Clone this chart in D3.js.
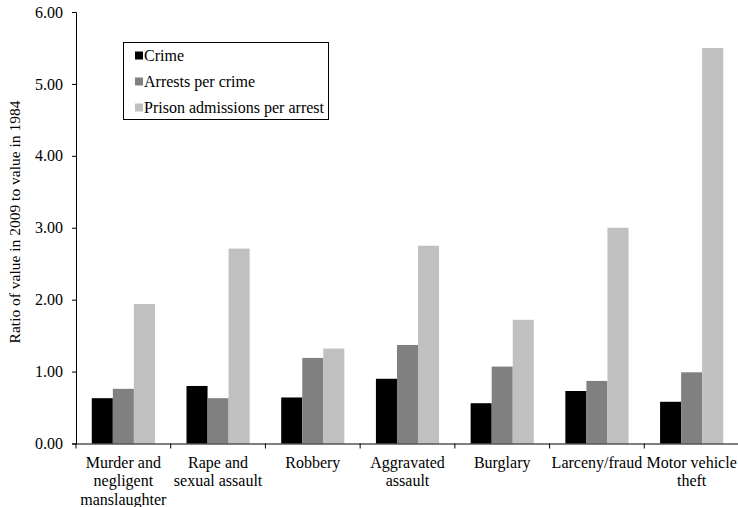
<!DOCTYPE html>
<html>
<head>
<meta charset="utf-8">
<script src="https://cdn.jsdelivr.net/npm/d3@7"></script>
<style>
  html, body { margin: 0; padding: 0; background: #fff; }
  svg text { font-family: "Liberation Serif", "Times New Roman", serif; fill: #000; }
</style>
</head>
<body>
<svg id="chart" width="738" height="507"></svg>
<script>
const categories = [
  ["Murder and", "negligent", "manslaughter"],
  ["Rape and", "sexual assault"],
  ["Robbery"],
  ["Aggravated", "assault"],
  ["Burglary"],
  ["Larceny/fraud"],
  ["Motor vehicle", "theft"]
];
const seriesNames = ["Crime", "Arrests per crime", "Prison admissions per arrest"];
const crime = [0.63, 0.80, 0.64, 0.90, 0.56, 0.73, 0.58];
const arrestsPerCrime = [0.76, 0.63, 1.19, 1.37, 1.07, 0.87, 0.99];
const prisonPerArrest = [1.94, 2.71, 1.32, 2.75, 1.72, 3.00, 5.50];
const yTicks = [0, 1, 2, 3, 4, 5, 6];
const colors = ["#000000", "#808080", "#c0c0c0"];

const series = [crime, arrestsPerCrime, prisonPerArrest];
const svg = d3.select("#chart");
const mLeft = 76, mRight = 739, mTop = 12, mBottom = 443.5;

const x = d3.scaleBand().domain(d3.range(categories.length)).range([mLeft, mRight]).paddingInner(0).paddingOuter(0);
const inner = d3.scaleBand().domain(d3.range(series.length)).range([0, x.bandwidth()]).paddingInner(0).paddingOuter(0.75);
const y = d3.scaleLinear().domain([0, 6]).range([mBottom, mTop]);

// bars
series.forEach((vals, si) => {
  svg.append("g").selectAll("rect").data(vals).join("rect")
    .attr("x", (d, i) => x(i) + inner(si))
    .attr("y", d => y(d))
    .attr("width", inner.bandwidth())
    .attr("height", d => y(0) - y(d))
    .attr("fill", colors[si]);
});

// y axis
const yAxis = d3.axisLeft(y).tickValues(yTicks).tickFormat(d3.format(".2f")).tickSize(4).tickPadding(9);
const gy = svg.append("g").attr("transform", `translate(${mLeft},0)`).call(yAxis);
gy.selectAll("text").style("font-size", "16px");
gy.selectAll("line, path").attr("stroke", "#000");

// x axis
const xAxis = d3.axisBottom(x).tickValues([]).tickSizeOuter(0);
const gx = svg.append("g").attr("transform", `translate(0,${mBottom})`).call(xAxis);
gx.select("path").attr("stroke", "#000");
gx.selectAll(".btick").data(d3.range(categories.length + 1)).join("line")
  .attr("class", "btick")
  .attr("x1", i => mLeft + i * x.step()).attr("x2", i => mLeft + i * x.step())
  .attr("y1", 0).attr("y2", 5).attr("stroke", "#000");

// category labels
categories.forEach((lines, i) => {
  const t = svg.append("text")
    .attr("text-anchor", "middle")
    .style("font-size", "16px");
  lines.forEach((ln, li) => {
    t.append("tspan").attr("x", x(i) + x.bandwidth() / 2).attr("y", 467.5 + li * 18.5).text(ln);
  });
});

// y title
svg.append("text")
  .attr("transform", "translate(20,222) rotate(-90)")
  .attr("text-anchor", "middle")
  .style("font-size", "15.5px")
  .text("Ratio of value in 2009 to value in 1984");

// legend
const lg = svg.append("g");
lg.append("rect").attr("x", 123.5).attr("y", 42.5).attr("width", 205).attr("height", 77)
  .attr("fill", "#fff").attr("stroke", "#000").attr("stroke-width", 1);
seriesNames.forEach((name, i) => {
  const cy = 55.5 + i * 26;
  lg.append("rect").attr("x", 135).attr("y", cy - 4).attr("width", 8).attr("height", 8).attr("fill", colors[i]);
  lg.append("text").attr("x", 144).attr("y", cy + 5.5).style("font-size", "16px").text(name);
});
</script>
</body>
</html>
